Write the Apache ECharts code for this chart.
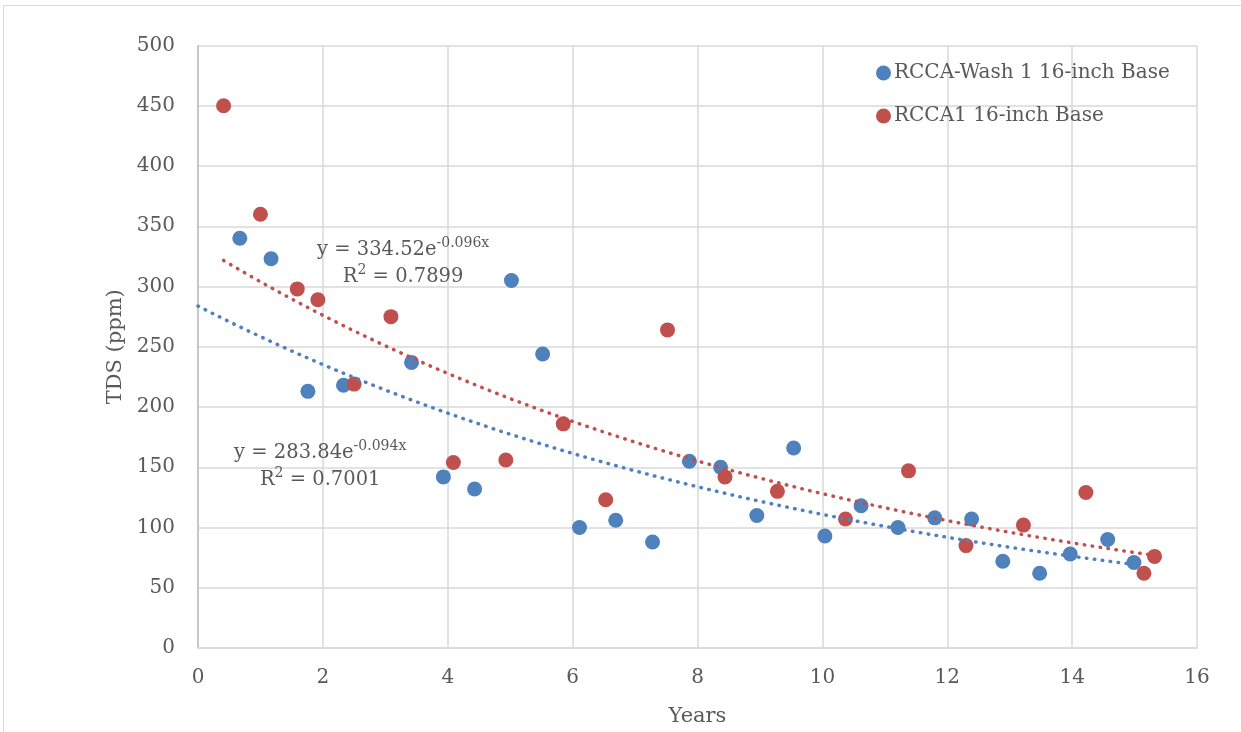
<!DOCTYPE html>
<html>
<head>
<meta charset="utf-8">
<script src="https://cdn.jsdelivr.net/npm/echarts@6/dist/echarts.min.js"></script>
<style>
html,body{margin:0;padding:0;background:#fff;}
#chart{width:1241px;height:732px;}
</style>
</head>
<body>
<div id="chart"></div>
<script>
// ---- Data ----
const washYears = [0.67,1.17,1.76,2.33,3.42,3.93,4.43,5.02,5.52,6.11,6.69,7.28,7.87,8.37,8.95,9.54,10.04,10.62,11.21,11.80,12.39,12.89,13.48,13.97,14.57,14.99];
const washTDS   = [340,323,213,218,237,142,132,305,244,100,106,88,155,150,110,166,93,118,100,108,107,72,62,78,90,71];
const rccaYears = [0.41,1.00,1.59,1.92,2.50,3.09,4.09,4.93,5.85,6.53,7.52,8.44,9.28,10.37,11.38,12.30,13.22,14.22,15.15,15.32];
const rccaTDS   = [450,360,298,289,219,275,154,156,186,123,264,142,130,107,147,85,102,129,62,76];
const seriesNames = ['RCCA-Wash 1 16-inch Base','RCCA1 16-inch Base'];
// Trendline coefficients as printed on the chart (y = a e^(b x))
const washFit = {a:283.84, b:-0.094, r2:'0.7001', from:0, to:14.99};
const rccaFit = {a:334.52, b:-0.096, r2:'0.7899', from:0.41, to:15.32};
const xTicks = [0,2,4,6,8,10,12,14,16];
const yTicks = [0,50,100,150,200,250,300,350,400,450,500];

const BLUE = '#4F81BD', RED = '#C0504D', TXT = '#595959', GRID = '#D9D9D9';
const FONT = 'DejaVu Serif';

function trend(fit){
  const pts = [];
  const n = 120;
  for(let i=0;i<=n;i++){
    const x = fit.from + (fit.to-fit.from)*i/n;
    pts.push([x, fit.a*Math.exp(fit.b*x)]);
  }
  return pts;
}
function eqLabel(fit){
  return '{a|y = '+fit.a.toFixed(2)+'e}{s|'+fit.b.toFixed(3)+'x}\n{a|R}{s|2}{a| = '+fit.r2+'}';
}
const rich = {
  a:{fontFamily:FONT,fontSize:19.5,color:TXT,lineHeight:27},
  s:{fontFamily:FONT,fontSize:14,color:TXT,lineHeight:14,verticalAlign:'top'}
};

const chart = echarts.init(document.getElementById('chart'), null, {renderer:'canvas'});
chart.setOption({
  animation:false,
  backgroundColor:'#fff',
  graphic:[{type:'rect',shape:{x:3.5,y:5.5,width:1400,height:900},style:{fill:'none',stroke:GRID,lineWidth:1},silent:true}],
  grid:{left:198,right:44,top:45.5,bottom:83.5,containLabel:false},
  legend:{
    data:seriesNames, orient:'vertical', left:871, top:56,
    icon:'circle', itemWidth:15, itemHeight:15, itemGap:19,
    textStyle:{fontFamily:FONT,fontSize:20,color:TXT,lineHeight:24,padding:[0,0,0,-2]}
  },
  xAxis:{
    type:'value', min:xTicks[0], max:xTicks[xTicks.length-1], interval:2,
    name:'Years', nameLocation:'middle', nameGap:58,
    nameTextStyle:{fontFamily:FONT,fontSize:21,color:TXT},
    axisLine:{show:true,lineStyle:{color:GRID,width:1.5}},
    axisTick:{show:false},
    axisLabel:{fontFamily:FONT,fontSize:20,color:TXT,margin:20},
    splitLine:{show:true,lineStyle:{color:GRID,width:1.5}}
  },
  yAxis:{
    type:'value', min:yTicks[0], max:yTicks[yTicks.length-1], interval:50,
    name:'TDS (ppm)', nameLocation:'middle', nameGap:72,
    nameTextStyle:{fontFamily:FONT,fontSize:21,color:TXT},
    axisLine:{show:true,lineStyle:{color:'#BFBFBF',width:1.5}},
    axisTick:{show:false},
    axisLabel:{fontFamily:FONT,fontSize:20,color:TXT,margin:23},
    splitLine:{show:true,lineStyle:{color:GRID,width:1.5}}
  },
  series:[
    {name:seriesNames[0], type:'scatter', symbolSize:15, itemStyle:{color:BLUE,opacity:1},
     data:washYears.map((x,i)=>[x,washTDS[i]]), z:3},
    {name:seriesNames[1], type:'scatter', symbolSize:15, itemStyle:{color:RED,opacity:1},
     data:rccaYears.map((x,i)=>[x,rccaTDS[i]]), z:3},
    {name:'washTrend', type:'line', showSymbol:false, symbol:'none', z:4, silent:true,
     data:trend(washFit),
     lineStyle:{color:BLUE,width:3.5,type:[0.5,7.5],cap:'round'},
     markPoint:{symbol:'circle',symbolSize:0,silent:true,
       data:[{coord:[1.957,150.5]}],
       label:{show:true,position:'inside',align:'center',verticalAlign:'middle',
         formatter:()=>eqLabel(washFit),rich:rich}}},
    {name:'rccaTrend', type:'line', showSymbol:false, symbol:'none', z:4, silent:true,
     data:trend(rccaFit),
     lineStyle:{color:RED,width:3.5,type:[0.5,7.5],cap:'round'},
     markPoint:{symbol:'circle',symbolSize:0,silent:true,
       data:[{coord:[3.285,319.5]}],
       label:{show:true,position:'inside',align:'center',verticalAlign:'middle',
         formatter:()=>eqLabel(rccaFit),rich:rich}}}
  ]
});
</script>
</body>
</html>
